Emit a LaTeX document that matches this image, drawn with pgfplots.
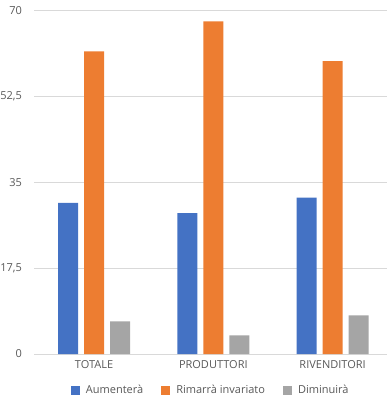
\documentclass[border=0pt]{standalone}
\usepackage{pgfplots}
\pgfplotsset{compat=1.18}
\usepackage{fontspec}
\setmainfont{Open Sans}
\definecolor{cblue}{HTML}{4472C4}
\definecolor{corange}{HTML}{ED7D31}
\definecolor{cgray}{HTML}{A5A5A5}
\definecolor{ctext}{HTML}{595959}
\definecolor{cgrid}{HTML}{D9D9D9}
\begin{document}
\begin{tikzpicture}
\begin{axis}[
  scale only axis,
  width=352.5pt, height=343.3pt,
  xmin=-0.499, xmax=2.456,
  ymin=0, ymax=70,
  ybar=6pt, bar width=20pt,
  xtick={0,1,2},
  xticklabels={TOTALE,PRODUTTORI,RIVENDITORI},
  ytick={0,17.5,35,52.5,70},
  yticklabels={0,{17,5},35,{52,5},70},
  /pgf/number format/assume math mode=true,
  ymajorgrids, grid style={cgrid, line width=0.8pt},
  axis line style={draw=none},
  major tick length=0pt,
  tick label style={font=\fontsize{11}{13}\selectfont, text=ctext},
  yticklabel style={xshift=-9pt},
  xticklabel style={yshift=-3pt},
  legend columns=3,
  legend style={draw=none, at={(0.5,-0.105)}, anchor=center,
    font=\fontsize{11}{13}\selectfont, text=ctext,
    /tikz/every odd column/.append style={column sep=4pt},
    /tikz/every even column/.append style={column sep=16pt}},
  legend image code/.code={\draw[#1, draw=none] (0pt,-4.5pt) rectangle (9pt,4.5pt);},
]
\addplot[fill=cblue, draw=none] coordinates {(0,30.8) (1,28.75) (2,31.9)};
\addplot[fill=corange, draw=none] coordinates {(0,61.7) (1,67.8) (2,59.7)};
\addplot[fill=cgray, draw=none] coordinates {(0,6.65) (1,3.8) (2,7.9)};
\legend{Aumenterà, Rimarrà invariato, Diminuirà}
\end{axis}
\pgfresetboundingbox
\path (current axis.south west) +(-34.5pt,-43pt) rectangle +(352.5pt,354pt);
\end{tikzpicture}
\end{document}
